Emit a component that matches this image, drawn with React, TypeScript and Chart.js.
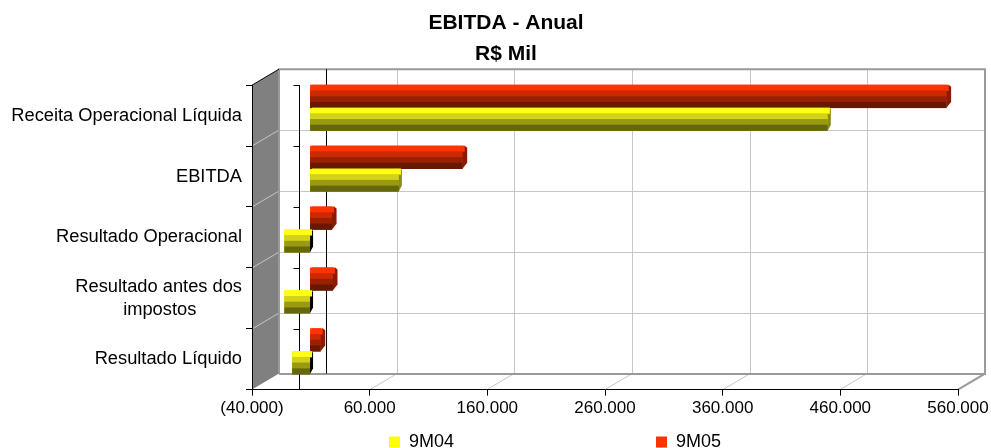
import React, { useEffect, useRef } from "react";
import { Chart, registerables } from "chart.js";

Chart.register(...registerables);

const categories = [
  "Receita Operacional Líquida",
  "EBITDA",
  "Resultado Operacional",
  ["Resultado antes dos", "impostos         "],
  "Resultado Líquido",
];
const values9M04 = [440000, 75500, -22000, -22000, -15300];
const values9M05 = [541000, 129700, 18700, 19500, 9000];
const titleLines = ["EBITDA - Anual", "R$ Mil"];

const DEPTH_X = 27;
const DEPTH_Y = 16;
const BAR_DX = 11;
const BAR_DY = -8;
const FONT = "'Liberation Sans', Arial, sans-serif";

const RED_BANDS = ["#ff3300", "#cc2900", "#992100", "#661800"];
const YELLOW_BANDS = ["#ffff14", "#d2d21a", "#999912", "#66660c"];
const RED_CAP = "#8a1c06";
const YELLOW_CAP = "#8c8c14";

const LEGEND_PADDING = 202;
const LEGEND_LEFT = 389;
const LEGEND_ROW_TOP = 433;
const LEGEND_RESERVED = 26;

const scenePlugin = {
  id: "scene3d",
  beforeLayout(chart: any) {
    const legend = chart.legend;
    if (legend && !legend.__wrapped) {
      legend.__wrapped = true;
      const fit = legend.fit;
      legend.fit = function () {
        fit.call(this);
        this.height = LEGEND_RESERVED;
      };
    }
  },
  afterLayout(chart: any) {
    const legend = chart.legend;
    legend.left = LEGEND_LEFT - LEGEND_PADDING;
    legend.right = 1400;
    legend.top = LEGEND_ROW_TOP - LEGEND_PADDING;
    legend.bottom = chart.height;
    // the long category labels run past the title-centring padding
    chart.scales.y.left = 0;
  },
  beforeDraw(chart: any) {
    const { ctx, chartArea: a, scales } = chart;
    const { left, right, top, bottom } = a;
    ctx.save();
    ctx.fillStyle = "#ffffff";
    ctx.fillRect(0, 0, chart.width, chart.height);
    // left wall
    ctx.fillStyle = "#808080";
    ctx.beginPath();
    ctx.moveTo(left, top);
    ctx.lineTo(left + DEPTH_X, top - DEPTH_Y);
    ctx.lineTo(left + DEPTH_X, bottom - DEPTH_Y);
    ctx.lineTo(left, bottom);
    ctx.closePath();
    ctx.fill();
    // grid on the back wall, the left wall and the floor
    ctx.strokeStyle = "#c6c6c6";
    ctx.lineWidth = 1;
    const yStep = (bottom - top) / categories.length;
    for (let i = 1; i < categories.length; i++) {
      const y = Math.round(top + i * yStep);
      ctx.beginPath();
      ctx.moveTo(left + DEPTH_X, y - DEPTH_Y + 0.5);
      ctx.lineTo(right + DEPTH_X, y - DEPTH_Y + 0.5);
      ctx.stroke();
      ctx.beginPath();
      ctx.moveTo(left, y);
      ctx.lineTo(left + DEPTH_X, y - DEPTH_Y);
      ctx.stroke();
    }
    for (const t of scales.x.ticks.slice(1, -1)) {
      const x = Math.round(scales.x.getPixelForValue(t.value));
      ctx.beginPath();
      ctx.moveTo(x + DEPTH_X + 0.5, top - DEPTH_Y);
      ctx.lineTo(x + DEPTH_X + 0.5, bottom - DEPTH_Y);
      ctx.stroke();
      ctx.beginPath();
      ctx.moveTo(x, bottom);
      ctx.lineTo(x + DEPTH_X, bottom - DEPTH_Y);
      ctx.stroke();
    }
    // back wall border
    ctx.strokeStyle = "#999999";
    ctx.lineWidth = 2;
    ctx.beginPath();
    ctx.moveTo(left + DEPTH_X, bottom - DEPTH_Y + 0.5);
    ctx.lineTo(left + DEPTH_X, top - DEPTH_Y);
    ctx.lineTo(right + DEPTH_X, top - DEPTH_Y);
    ctx.lineTo(right + DEPTH_X, bottom - DEPTH_Y + 0.5);
    ctx.lineTo(left + DEPTH_X, bottom - DEPTH_Y + 0.5);
    ctx.moveTo(right, bottom);
    ctx.lineTo(right + DEPTH_X, bottom - DEPTH_Y);
    ctx.stroke();
    // top edge of the left wall
    ctx.strokeStyle = "#000000";
    ctx.lineWidth = 1;
    ctx.beginPath();
    ctx.moveTo(left, top);
    ctx.lineTo(left + DEPTH_X, top - DEPTH_Y);
    ctx.stroke();
    ctx.restore();
  },
  beforeDatasetsDraw(chart: any) {
    const { ctx, chartArea: a, scales } = chart;
    const zero = Math.round(scales.x.getPixelForValue(0)) + 0.5;
    ctx.save();
    ctx.strokeStyle = "#000000";
    ctx.lineWidth = 1;
    ctx.beginPath();
    // category axis crossing at zero, front and back
    ctx.moveTo(zero, a.top);
    ctx.lineTo(zero, a.bottom);
    ctx.moveTo(zero + DEPTH_X, a.top - DEPTH_Y);
    ctx.lineTo(zero + DEPTH_X, a.bottom - DEPTH_Y);
    const yStep = (a.bottom - a.top) / categories.length;
    for (let i = 0; i < categories.length; i++) {
      const y = Math.round(a.top + i * yStep) + 0.5;
      ctx.moveTo(zero - 6, y);
      ctx.lineTo(zero, y);
    }
    ctx.stroke();
    ctx.restore();
    // bars stand half-way into the depth of the box
    ctx.save();
    ctx.translate(BAR_DX, BAR_DY);
  },
  afterDatasetsDraw(chart: any) {
    const { ctx } = chart;
    chart.data.datasets.forEach((ds: any, di: number) => {
      const bands = ds.bands as string[];
      const cap = ds.capWidth as number;
      chart.getDatasetMeta(di).data.forEach((el: any) => {
        const l = Math.min(el.x, el.base);
        const r = Math.max(el.x, el.base);
        const t = el.y - el.height / 2;
        const bh = el.height / bands.length;
        const negative = el.x < el.base;
        // end of the bar
        ctx.fillStyle = negative ? "#000000" : ds.capColor;
        ctx.beginPath();
        ctx.moveTo(r - 1, t + bh / 2);
        ctx.lineTo(r + 2, t);
        ctx.lineTo(r + cap, t + 2);
        ctx.lineTo(r + cap, t + el.height - bh);
        ctx.lineTo(r, t + el.height);
        ctx.closePath();
        ctx.fill();
        bands.forEach((c, i) => {
          ctx.fillStyle = c;
          const inset = i === 0 ? 2 : 0;
          ctx.fillRect(l + inset, t + i * bh, r - l, bh + 0.5);
        });
      });
    });
    ctx.restore();
  },
};

export default function App() {
  const ref = useRef<HTMLCanvasElement>(null);
  useEffect(() => {
    const canvas = ref.current!;
    const base: any = canvas.getContext("2d");
    base.letterSpacing = "0.5px";
    const chart = new Chart(canvas, {
      type: "bar",
      plugins: [scenePlugin],
      data: {
        labels: categories as any,
        datasets: [
          {
            label: "9M05",
            data: values9M05,
            backgroundColor: "#ff3300",
            categoryPercentage: 0.75,
            barPercentage: 1,
            bands: RED_BANDS,
            capColor: RED_CAP,
            capWidth: 4.5,
          } as any,
          {
            label: "9M04",
            data: values9M04,
            backgroundColor: "#ffff00",
            categoryPercentage: 0.75,
            barPercentage: 1,
            bands: YELLOW_BANDS,
            capColor: YELLOW_CAP,
            capWidth: 3,
          } as any,
        ],
      },
      options: {
        indexAxis: "y",
        animation: false,
        responsive: false,
        devicePixelRatio: 1,
        layout: { padding: { left: 54, right: 33, top: 0, bottom: 0 } },
        plugins: {
          tooltip: { enabled: false },
          title: {
            display: true,
            text: titleLines,
            color: "#000000",
            font: { family: FONT, size: 21, weight: "bold", lineHeight: 1.48 },
            padding: { top: 8, bottom: 15 },
          },
          legend: {
            position: "bottom",
            align: "start",
            reverse: true,
            labels: {
              boxWidth: 11,
              boxHeight: 11,
              padding: LEGEND_PADDING,
              color: "#000000",
              font: { family: FONT, size: 18 },
            },
          },
        },
        scales: {
          x: {
            type: "linear",
            min: -40000,
            max: 560000,
            ticks: {
              stepSize: 100000,
              color: "#000000",
              font: { family: FONT, size: 17 },
              maxRotation: 0,
              padding: 3,
              callback: (v: any) => {
                const s = Math.abs(v).toLocaleString("pt-BR");
                return v < 0 ? `(${s})` : s;
              },
            },
            grid: { drawOnChartArea: false, tickLength: 6, color: "#000000" },
            border: { color: "#000000" },
            afterFit: (s: any) => {
              s.paddingLeft = 0;
              s.paddingRight = 0;
            },
          },
          y: {
            ticks: {
              color: "#000000",
              font: { family: FONT, size: 18.3, lineHeight: 1.25 },
              padding: 4,
              autoSkip: false,
            },
            grid: { drawOnChartArea: false, tickLength: 6, color: "#000000" },
            border: { color: "#000000" },
            afterFit: (s: any) => {
              s.width = 198;
            },
          },
        },
      } as any,
    });
    return () => chart.destroy();
  }, []);
  return (
    <div style={{ position: "fixed", left: 0, top: 0 }}>
      <canvas ref={ref} width={991} height={448} style={{ display: "block" }} />
    </div>
  );
}
